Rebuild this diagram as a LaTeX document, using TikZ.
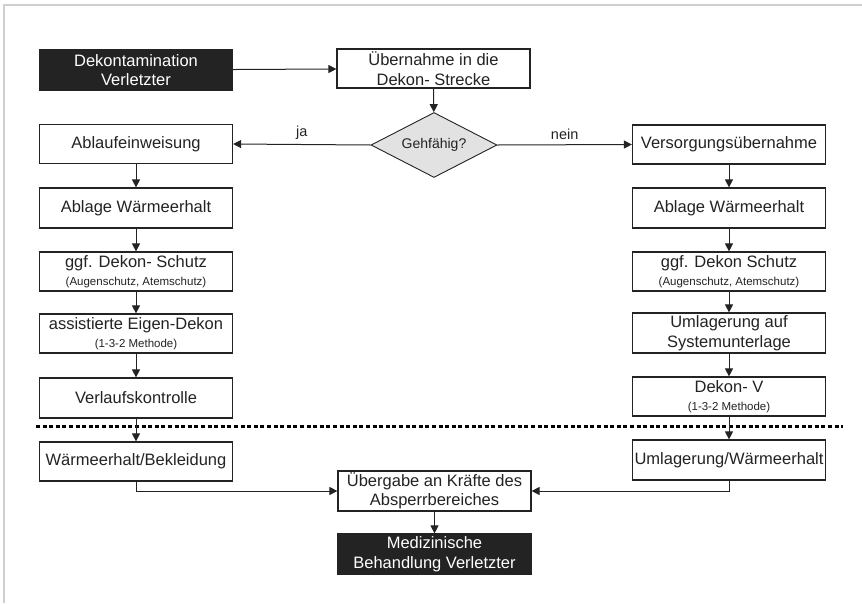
\documentclass[tikz,border=0pt]{standalone}
\usepackage{fontspec}
\setmainfont{Liberation Sans}
\usetikzlibrary{arrows.meta,shapes.geometric}
\definecolor{ink}{HTML}{232323}
\definecolor{frame}{HTML}{CFCFCF}
\definecolor{decfill}{HTML}{E2E2E2}
\newcommand{\bigtxt}{\fontsize{16.5}{19.5}\selectfont}
\newcommand{\smalltxt}{\fontsize{11.5}{13}\selectfont}
\tikzset{
  stepbox/.style={draw=ink, line width=1.2pt, fill=white, rectangle,
    minimum width=193pt, minimum height=39pt, inner sep=0pt,
    align=center, text=ink, font=\bigtxt},
  darkbox/.style={stepbox, fill=ink, draw=ink, text=white},
  decision/.style={draw=ink, line width=0.9pt, fill=decfill, diamond,
    aspect=1.94, minimum width=126pt, minimum height=65pt, inner sep=0pt,
    text=ink, font=\fontsize{14}{16}\selectfont},
  flow/.style={draw=ink, line width=1pt, -{Triangle[length=8pt,width=8pt]}},
  branchlbl/.style={text=ink, font=\fontsize{14.5}{16}\selectfont},
}
\begin{document}
\begin{tikzpicture}[x=1pt, y=-1pt]
\useasboundingbox (0,0) rectangle (862,603);
% outer frame (top and left edges)
\draw[frame, line width=2pt] (4,603) -- (4,5) -- (862,5);

% entry
\node[darkbox, minimum height=40pt] (start) at (136,70) {Dekontamination\\Verletzter};
\node[stepbox] (take) at (433.5,68.5) {Übernahme in die\\Dekon- Strecke};
\node[decision] (walk) at (434,145) {Gehfähig?};

% left column: able to walk
\node[stepbox] (l1) at (136,144) {Ablaufeinweisung};
\node[stepbox, minimum height=40pt] (l2) at (136,208) {Ablage Wärmeerhalt};
\node[stepbox] (l3) at (136,271.5) {ggf. Dekon- Schutz\\[-2pt]{\smalltxt(Augenschutz, Atemschutz)}};
\node[stepbox] (l4) at (136,333.5) {assistierte Eigen-Dekon\\[-2pt]{\smalltxt(1-3-2 Methode)}};
\node[stepbox, minimum height=40pt] (l5) at (136,398) {Verlaufskontrolle};
\node[stepbox] (l6) at (136,461.5) {Wärmeerhalt/Bekleidung};

% right column: not able to walk
\node[stepbox] (r1) at (729,144.5) {Versorgungsübernahme};
\node[stepbox, minimum height=40pt] (r2) at (729,208) {Ablage Wärmeerhalt};
\node[stepbox] (r3) at (729,271.5) {ggf. Dekon Schutz\\[-2pt]{\smalltxt(Augenschutz, Atemschutz)}};
\node[stepbox, minimum height=40pt] (r4) at (729,333) {Umlagerung auf\\Systemunterlage};
\node[stepbox] (r5) at (729,396.5) {Dekon- V\\[-2pt]{\smalltxt(1-3-2 Methode)}};
\node[stepbox, minimum height=40pt] (r6) at (729,460) {Umlagerung/Wärmeerhalt};

% hand-over
\node[stepbox, minimum height=40pt] (hand) at (434.5,491) {Übergabe an Kräfte des\\Absperrbereiches};
\node[darkbox, minimum height=40pt] (med) at (434.5,554) {Medizinische\\Behandlung Verletzter};

% boundary of the decontamination zone
\coordinate (zoneW) at (36,426);
\coordinate (zoneE) at (843,426);
\draw[black, line width=3pt, dash pattern=on 4pt off 2.6pt] (zoneW) -- (zoneE);

% connectors
\draw[flow] (start) -- (take);
\draw[flow] (take) -- (walk);
\draw[flow] (walk.west) -- node[branchlbl, above, pos=0.5, yshift=1pt] {ja} (l1.east);
\draw[flow] (walk.east) -- node[branchlbl, above, pos=0.5, yshift=1pt] {nein} (r1.west);
\draw[flow] (l1) -- (l2);
\draw[flow] (l2) -- (l3);
\draw[flow] (l3) -- (l4);
\draw[flow] (l4) -- (l5);
\draw[flow] (l5) -- (l6);
\draw[flow] (r1) -- (r2);
\draw[flow] (r2) -- (r3);
\draw[flow] (r3) -- (r4);
\draw[flow] (r4) -- (r5);
\draw[flow] (r5) -- (r6);
\draw[flow] (l6.south) |- (hand.west);
\draw[flow] (r6.south) |- (hand.east);
\draw[flow] (hand) -- (med);
\end{tikzpicture}
\end{document}
